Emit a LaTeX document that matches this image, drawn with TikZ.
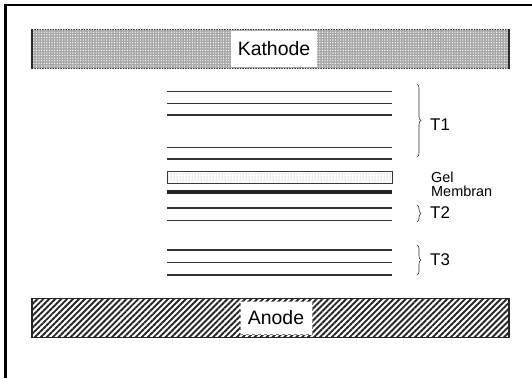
\documentclass[tikz,border=0pt]{standalone}
\usepackage{fontspec}
\setmainfont{Liberation Sans}
\usetikzlibrary{patterns,patterns.meta,decorations.pathreplacing}
\begin{document}
\begin{tikzpicture}[x=1bp,y=-1bp,
  layer/.style={line width=1.8bp, draw=black!80},
  electrode/.style={draw=black!85, line width=1.3bp, minimum width=477bp, minimum height=39bp, inner sep=0pt},
  kathodefill/.style={electrode, fill=gray!70, postaction={pattern={Dots[distance=2.6bp, radius=0.7bp]}, pattern color=white}},
  anodefill/.style={electrode, fill=white, postaction={pattern={Lines[angle=45, distance=4.2bp, line width=1.9bp]}, pattern color=black!85}},
  lbl/.style={fill=white, inner xsep=7bp, minimum height=36bp, font=\fontsize{19.5}{21}\selectfont},
  tlabel/.style={anchor=west, font=\fontsize{17}{19}\selectfont, inner sep=0pt},
  brc/.style={decorate, decoration={brace, amplitude=4bp}, line width=0.6bp, draw=black!80}
]
\useasboundingbox (0,0) rectangle (532,378);
\fill[white] (0,0) rectangle (532,378);
% frame
\draw[line width=2.5bp] (5.5,378) -- (5.5,5) -- (532,5);
% electrodes
\node[kathodefill] (kathode) at (270.5,49) {};
\node[lbl] (klabel) at (274,49) {Kathode};
\node[anodefill] (anode) at (270.5,318) {};
\node[lbl, dashed, draw=black!50, line width=0.6bp, inner xsep=8bp, minimum height=33bp] (alabel) at (276,318) {Anode};
% T1 layers
\foreach \y in {91.5,103.5,115,147.5,159}
  \draw[layer] (167,\y) -- (392,\y);
% gel
\node[draw=black!80, line width=0.9bp, minimum width=225bp, minimum height=12bp, inner sep=0pt,
      fill=white, postaction={pattern={Dots[distance=3bp, radius=0.5bp]}, pattern color=black!50}] (gel) at (279.5,177) {};
% membrane
\draw[line width=4.8bp, draw=black!85] (167,192) -- (392,192);
% T2, T3 layers
\foreach \y in {208,220.5,250,262.5,275}
  \draw[layer] (167,\y) -- (392,\y);
% braces
\coordinate (b1t) at (417,84);
\coordinate (b1b) at (417,157);
\draw[brc] (b1t) -- (b1b);
\node[tlabel] (t1) at (430,125) {T1};
\coordinate (b2t) at (417,205);
\coordinate (b2b) at (417,222);
\draw[brc] (b2t) -- (b2b);
\node[tlabel] (t2) at (430,213) {T2};
\coordinate (b3t) at (417,245);
\coordinate (b3b) at (417,275);
\draw[brc] (b3t) -- (b3b);
\node[tlabel] (t3) at (430,260) {T3};
\node[tlabel, align=left, font=\fontsize{14.5}{14}\selectfont] (gm) at (431,184.5) {Gel\\Membran};
\end{tikzpicture}
\end{document}
